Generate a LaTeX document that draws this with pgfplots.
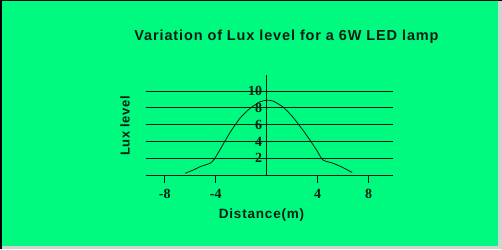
\documentclass[border=0pt]{standalone}
\usepackage{fontspec}
\setmainfont{Liberation Serif}
\setsansfont{Liberation Sans}
\usepackage{pgfplots}
\pgfplotsset{compat=1.18}
\definecolor{bg}{RGB}{0,250,128}
\definecolor{ink}{RGB}{10,30,20}
\begin{document}
\begin{tikzpicture}[x=1pt,y=1pt]
\useasboundingbox (0,0) rectangle (502,249);
\fill[gray!35] (0,0) rectangle (502,249);
\fill[bg] (2,3) rectangle (498,248);
\draw[black,line width=1.5pt] (0.75,0) -- (0.75,249);
\draw[black,line width=0.8pt] (0,248.6) -- (502,248.6);
\begin{axis}[
  at={(266.7pt,74pt)}, anchor=origin,
  x=12.75pt, y=8.4pt,
  xmin=-9.47, xmax=9.9, ymin=0, ymax=11.9,
  axis x line=middle, axis y line=middle,
  axis line style={-, ink, line width=1pt},
  xtick={-8,-4,0,4,8}, ytick={2,4,6,8,10},
  xtick style={ink, line width=0.9pt},
  ytick style={draw=none},
  xtick align=outside,
  major tick length=8pt,
  ymajorgrids, grid style={ink, line width=0.9pt},
  /pgf/number format/assume math mode=true,
  ticklabel style={font=\rmfamily\bfseries\fontsize{14}{15}\selectfont, text=ink},
  xticklabel style={yshift=-3pt},
  yticklabel style={xshift=3pt},
  clip=false,
]
\addplot[ink, line width=0.8pt, smooth, tension=0.4] coordinates {
  (-6.4,0.2) (-5.75,0.6) (-5.2,1.0) (-4.45,1.4) (-4.06,2.0)
  (-2.9,5.0) (-2.1,6.75) (-1.33,7.9) (-0.55,8.7) (0,8.9)
  (0.5,8.8) (1.27,8.1) (2.05,6.9) (3.1,4.8) (3.9,3.0)
  (4.4,1.8) (5.2,1.4) (5.96,0.9) (6.7,0.3)
};
\end{axis}
\node[font=\sffamily\bfseries\fontsize{14.5}{16}\selectfont\addfontfeature{LetterSpace=6}, text=ink] at (286.5,212) {Variation of Lux level for a 6W LED lamp};
\node[font=\sffamily\bfseries\fontsize{13}{15}\selectfont\addfontfeature{LetterSpace=4}, text=ink, rotate=90] at (125,123) {Lux level};
\node[font=\sffamily\bfseries\fontsize{13.5}{15}\selectfont\addfontfeature{LetterSpace=6}, text=ink] at (261.5,34) {Distance(m)};
\end{tikzpicture}
\end{document}
